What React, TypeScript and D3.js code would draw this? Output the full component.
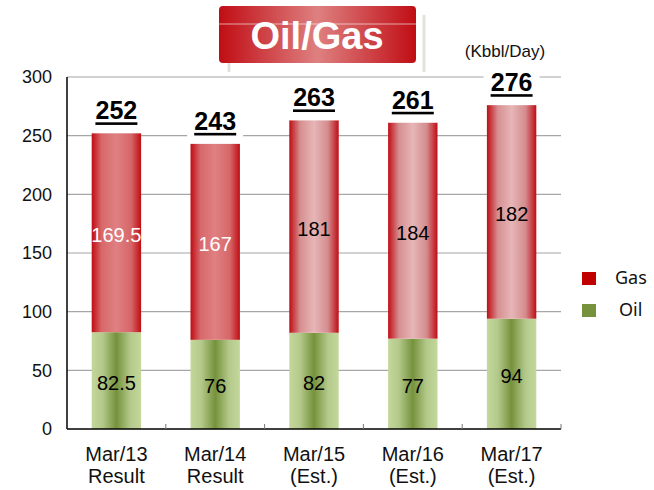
import { scaleBand, scaleLinear, range } from "d3"

const categories = ["Mar/13", "Mar/14", "Mar/15", "Mar/16", "Mar/17"]
const subLabels = ["Result", "Result", "(Est.)", "(Est.)", "(Est.)"]
const oilValues = [82.5, 76, 82, 77, 94]
const gasValues = [169.5, 167, 181, 184, 182]
const totals = [252, 243, 263, 261, 276]
const isResult = [true, true, false, false, false]
const yTicks = [0, 50, 100, 150, 200, 250, 300]

const W = 654
const H = 490
const left = 67
const right = 561
const top = 77
const bottom = 429
const font = "'Liberation Sans', Arial, sans-serif"

const App = () => {
  const x = scaleBand<string>()
    .domain(categories)
    .range([left, right])
    .paddingInner(0.5)
    .paddingOuter(0.25)
  const y = scaleLinear().domain([0, 300]).range([bottom, top])
  const step = x.step()
  const bw = x.bandwidth()

  return (
    <svg width={W} height={H} style={{ position: "absolute", left: 0, top: 0 }}>
      <defs>
        <linearGradient id="gasRes" x1="0" x2="1" y1="0" y2="0">
          <stop offset="0" stopColor="#bf0d14" />
          <stop offset="0.2" stopColor="#d8686a" />
          <stop offset="0.5" stopColor="#df8082" />
          <stop offset="0.8" stopColor="#d66668" />
          <stop offset="1" stopColor="#bf0d14" />
        </linearGradient>
        <linearGradient id="gasEst" x1="0" x2="1" y1="0" y2="0">
          <stop offset="0" stopColor="#bf0d14" />
          <stop offset="0.22" stopColor="#d68f91" />
          <stop offset="0.5" stopColor="#e6b6b7" />
          <stop offset="0.78" stopColor="#d48c8e" />
          <stop offset="1" stopColor="#bf0d14" />
        </linearGradient>
        <linearGradient id="oil" x1="0" x2="1" y1="0" y2="0">
          <stop offset="0" stopColor="#c4d79c" />
          <stop offset="0.22" stopColor="#b3c98a" />
          <stop offset="0.5" stopColor="#76923c" />
          <stop offset="0.78" stopColor="#b3c98a" />
          <stop offset="1" stopColor="#c4d79c" />
        </linearGradient>
        <linearGradient id="title" x1="0" x2="1" y1="0" y2="0">
          <stop offset="0" stopColor="#c00d14" />
          <stop offset="0.5" stopColor="#de8080" />
          <stop offset="1" stopColor="#c00d14" />
        </linearGradient>
      </defs>

      {/* title */}
      <line x1={229} x2={229} y1={60} y2={72} stroke="#e2e2dc" strokeWidth={3} />
      <line x1={424} x2={424} y1={15} y2={72} stroke="#e2e2dc" strokeWidth={3} />
      <rect x={219} y={6} width={197} height={57} rx={4} fill="url(#title)" />
      <line x1={219} x2={416} y1={24} y2={24} stroke="#ffffff" strokeOpacity={0.6} strokeWidth={1} />
      <text x={317} y={49} textAnchor="middle" fill="#fff" fontFamily={font} fontWeight="bold" fontSize={38}>
        Oil/Gas
      </text>
      <text x={505} y={57} textAnchor="middle" fontFamily={font} fontSize={17} fill="#111">
        (Kbbl/Day)
      </text>

      {/* grid */}
      {yTicks.filter((t) => t > 0).map((t) => (
        <line key={t} x1={left} x2={right} y1={y(t)} y2={y(t)} stroke="#a6a6a6" strokeWidth={1.2} />
      ))}
      {yTicks.map((t) => (
        <text key={t} x={52} y={y(t)} dy="0.35em" textAnchor="end" fontFamily={font} fontSize={18} fill="#111">
          {t}
        </text>
      ))}

      {/* bars */}
      {categories.map((c, i) => {
        const x0 = x(c) as number
        const cx = x0 + bw / 2
        const oilTop = y(oilValues[i])
        const gasTop = y(oilValues[i] + gasValues[i])
        const ty = y(totals[i]) - 14
        const tw = 42
        return (
          <g key={c}>
            <rect x={x0} y={oilTop} width={bw} height={bottom - oilTop} fill="url(#oil)" />
            <rect x={x0} y={gasTop} width={bw} height={oilTop - gasTop} fill={isResult[i] ? "url(#gasRes)" : "url(#gasEst)"} />
            <text x={cx} y={(bottom + oilTop) / 2 + 2} dy="0.35em" textAnchor="middle" fontFamily={font} fontSize={20} fill="#000">
              {oilValues[i]}
            </text>
            <text x={cx} y={(oilTop + gasTop) / 2 + 2} dy="0.35em" textAnchor="middle" fontFamily={font} fontSize={20} fill={isResult[i] ? "#fff" : "#000"}>
              {gasValues[i]}
            </text>
            <rect x={cx - tw / 2 - 7} y={ty - 20} width={tw + 14} height={27} fill="#fff" />
            <text x={cx} y={ty} textAnchor="middle" fontFamily={font} fontSize={25} fontWeight="bold" fill="#000">
              {totals[i]}
            </text>
            <rect x={cx - tw / 2} y={ty + 3} width={tw} height={2.6} fill="#000" />
            <text x={cx} y={461} textAnchor="middle" fontFamily={font} fontSize={20} fill="#111">
              {c}
            </text>
            <text x={cx} y={483} textAnchor="middle" fontFamily={font} fontSize={20} fill="#111">
              {subLabels[i]}
            </text>
          </g>
        )
      })}

      {/* axes */}
      <line x1={left} x2={left} y1={top} y2={bottom} stroke="#000" strokeWidth={1.5} />
      <line x1={left} x2={right} y1={bottom} y2={bottom} stroke="#000" strokeWidth={1.5} />
      {range(1, categories.length + 1).map((i) => (
        <line key={i} x1={left + i * step} x2={left + i * step} y1={bottom} y2={bottom - 5} stroke="#777" strokeWidth={1} />
      ))}

      {/* legend */}
      <rect x={582} y={272} width={14} height={13} fill="#c00000" />
      <text x={615} y={284} fontFamily="'Noto Sans', sans-serif" fontSize={18} fill="#111">Gas</text>
      <rect x={582} y={304} width={14} height={13} fill="#76923c" />
      <text x={619} y={316} fontFamily="'Noto Sans', sans-serif" fontSize={18} fill="#111">Oil</text>
    </svg>
  )
}

export default App
